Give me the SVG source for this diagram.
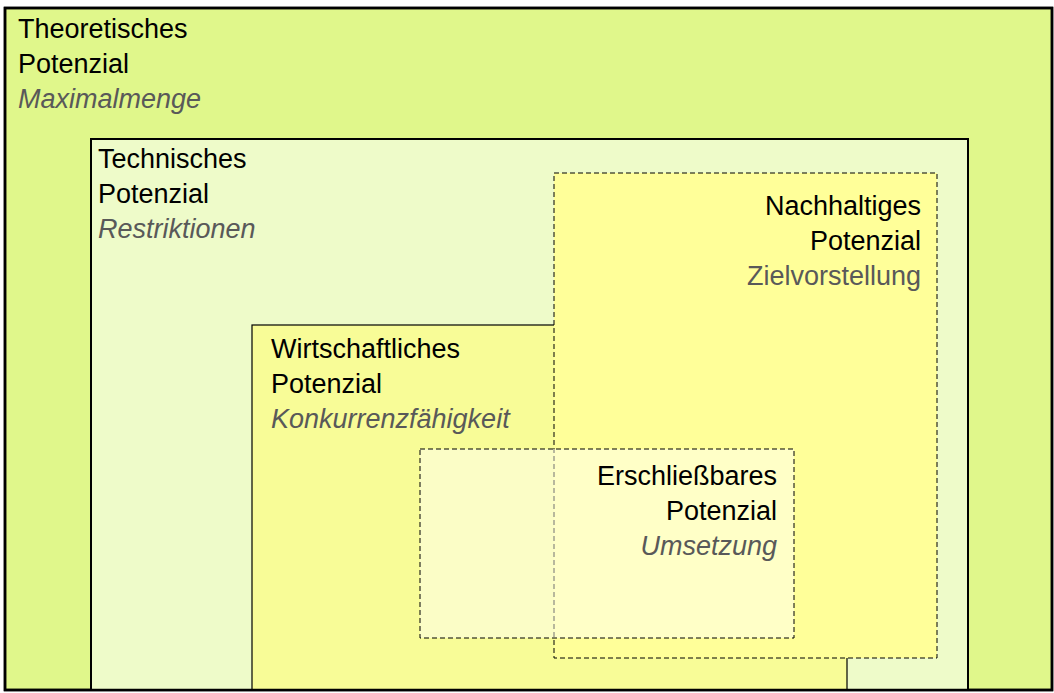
<svg xmlns="http://www.w3.org/2000/svg" width="1054" height="693" viewBox="0 0 1054 693">
<style>
  text { font-family: "Liberation Sans", Arial, sans-serif; font-size: 27px; fill: #000; }
  .sub { fill: #595959; font-style: italic; }
  .subn { fill: #595959; }
  .r { text-anchor: end; }
  .dash { stroke: #000; stroke-width: 1; stroke-dasharray: 5 3; }
</style>
<rect width="1054" height="693" fill="#ffffff"/>
<g id="theoretisch">
  <rect x="5" y="8" width="1047" height="682" fill="#e0f78b" stroke="#000" stroke-width="2.5"/>
  <text x="18" y="38">Theoretisches</text>
  <text x="18" y="73">Potenzial</text>
  <text x="18" y="108" class="sub">Maximalmenge</text>
</g>
<g id="technisch">
  <rect x="91" y="139" width="877" height="551" fill="#eefbc9" stroke="#000" stroke-width="2"/>
  <text x="98" y="168">Technisches</text>
  <text x="98" y="203">Potenzial</text>
  <text x="98" y="238" class="sub">Restriktionen</text>
</g>
<g id="wirtschaftlich">
  <rect x="252" y="325" width="595" height="365" fill="#f8fc97" stroke="#000" stroke-width="1.2"/>
  <text x="271" y="358">Wirtschaftliches</text>
  <text x="271" y="393">Potenzial</text>
  <text x="271" y="428" class="sub">Konkurrenzfähigkeit</text>
</g>
<g id="nachhaltig">
  <rect x="554" y="173" width="383" height="485" fill="#ffff99" class="dash"/>
  <text x="921" y="215" class="r">Nachhaltiges</text>
  <text x="921" y="250" class="r">Potenzial</text>
  <text x="921" y="285" class="r subn">Zielvorstellung</text>
</g>
<g id="erschliessbar">
  <rect x="420" y="449" width="374" height="189" fill="#ffffff" fill-opacity="0.45" class="dash"/>
  <text x="777" y="485" class="r">Erschließbares</text>
  <text x="777" y="520" class="r">Potenzial</text>
  <text x="777" y="555" class="r sub">Umsetzung</text>
</g>
<g id="connectors"></g>
<rect x="5" y="8" width="1047" height="682" fill="none" stroke="#000" stroke-width="2.5"/>
</svg>
